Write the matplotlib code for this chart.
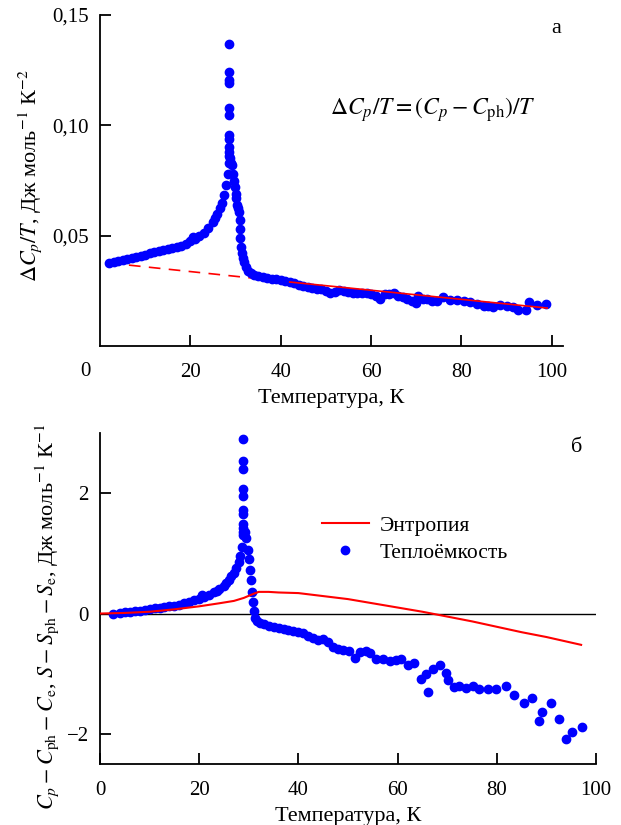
import numpy as np
import matplotlib
matplotlib.use('Agg')
import matplotlib.pyplot as plt
from matplotlib.lines import Line2D
from matplotlib.ticker import FuncFormatter

plt.rcParams['font.family'] = ['Liberation Serif', 'DejaVu Serif']
plt.rcParams['mathtext.fontset'] = 'stix'
plt.rcParams['font.size'] = 15

# --- panel a: dCp/T ---
t_a = [2, 3, 4, 5, 6, 7, 8, 9, 10, 11, 12, 13, 14, 15, 16, 17, 18, 19, 20, 20.5,
       21, 22, 23, 24, 25, 25.5, 26, 26.5, 27, 27.5, 28, 28.3, 28.5,
       28.6, 28.6, 28.6, 28.6, 28.6, 28.6, 28.6, 28.6, 28.6, 28.6, 28.6,
       28.8, 29.0, 29.2, 29.4, 29.6, 29.8, 30.0, 30.2, 30.4, 30.6, 30.8, 30.9,
       31.0, 31.1, 31.2, 31.4, 31.6, 31.9, 32.3, 32.8, 33.4, 34.2, 35, 36, 37,
       38, 39, 40, 41, 42, 43, 44, 45, 46, 47, 48, 49, 50,
       51, 52, 53, 54, 55, 56, 57, 58, 59, 60, 61, 62, 63, 64, 65, 66, 67,
       68, 69, 70, 70.5, 71.5, 72.5, 73.5, 74.5, 76, 77.5, 79, 80.5, 82,
       83.5, 85, 86, 87, 88.5, 90, 91.5, 92.5, 94.2, 94.9, 96.8, 98.8]
dcp_a = [0.0376, 0.0381, 0.0386, 0.0390, 0.0394, 0.0399, 0.0404, 0.0409, 0.0414,
         0.0420, 0.0425, 0.0430, 0.0437, 0.0441, 0.0444, 0.0447, 0.0452, 0.0462,
         0.0478, 0.0492, 0.0485, 0.0500, 0.0512, 0.0535, 0.0560, 0.0580, 0.0600,
         0.0625, 0.0650, 0.0685, 0.0730, 0.0780, 0.0830,
         0.137, 0.124, 0.1205, 0.119, 0.108, 0.1047, 0.0956, 0.094, 0.090, 0.088,
         0.0860,
         0.085, 0.083, 0.082, 0.078, 0.075, 0.072, 0.069, 0.067, 0.064, 0.0625,
         0.0605, 0.057, 0.053, 0.049, 0.045, 0.042, 0.040, 0.038, 0.036, 0.034,
         0.033, 0.032, 0.0315, 0.0312, 0.0310, 0.0305, 0.0302, 0.0300,
         0.0296, 0.0290, 0.0284, 0.0276, 0.0272, 0.0268, 0.0262, 0.0258, 0.0260,
         0.0250, 0.0240, 0.0245, 0.0252, 0.0250, 0.0245, 0.0240, 0.0240, 0.0238,
         0.0240, 0.0235, 0.0225, 0.0215, 0.0237, 0.0235, 0.0240, 0.0228, 0.0222,
         0.0215, 0.0205, 0.0195, 0.0228, 0.0215, 0.0215, 0.0205, 0.0205, 0.0220,
         0.0208, 0.0210, 0.0205, 0.0198, 0.0190, 0.0182, 0.0180, 0.0175, 0.0185,
         0.0180, 0.0178, 0.0165, 0.0165, 0.0200, 0.0186, 0.0190]
# phonon baseline (dashed below ~42 K, solid above)
t_fit_dash = [2, 42]
v_fit_dash = [0.0376, 0.0290]
t_fit = [42, 99]
v_fit = [0.0290, 0.0172]

# --- panel b ---
t_b = [2.7, 4, 5, 6, 7, 8, 9, 10, 11, 12, 13, 14, 15, 16, 17, 18, 19, 20, 20.5,
       21, 22, 23, 23.5, 24, 25, 25.5, 26, 26.5, 27, 27.5, 28, 28.3, 28.6, 28.8,
       28.9, 28.9, 28.9, 28.9, 28.9, 28.9, 28.9, 28.9, 28.9, 28.9,
       29.2, 29.5, 29.8, 30.0, 30.2, 30.4, 30.6, 30.8, 31.0, 31.2, 31.7, 32.2,
       33, 34, 35, 36, 37, 38, 39, 40, 41, 42, 43, 44, 45, 46, 47, 48, 49,
       50.3, 51.4, 52.4, 53.7, 54.4, 55.7, 57, 58.4, 59.7, 60.7, 62, 63.4,
       64.8, 65.8, 66.1, 67.1, 68.6, 69.8, 70.2, 71.3, 72.4, 73.8, 75.3, 76.4,
       78.2, 79.9, 81.9, 83.4, 85.4, 87, 88.6, 89.2, 91, 92.6, 94, 95.1, 97.2]
c_b = [0.0, 0.01, 0.02, 0.03, 0.04, 0.05, 0.06, 0.08, 0.09, 0.10, 0.11, 0.12,
       0.13, 0.15, 0.17, 0.19, 0.22, 0.25, 0.30, 0.28, 0.30, 0.35, 0.37, 0.40,
       0.45, 0.50, 0.55, 0.62, 0.68, 0.76, 0.85, 0.95, 1.1, 1.3,
       2.9, 2.54, 2.41, 2.07, 1.96, 1.72, 1.66, 1.49, 1.42, 1.36,
       1.35, 1.25, 1.05, 0.90, 0.72, 0.55, 0.35, 0.20, 0.05, -0.08, -0.12,
       -0.15, -0.18, -0.20, -0.22, -0.24, -0.25, -0.27, -0.29, -0.30, -0.33,
       -0.37, -0.41, -0.44, -0.43, -0.48, -0.55, -0.59, -0.61,
       -0.62, -0.74, -0.64, -0.63, -0.66, -0.75,
       -0.75, -0.79, -0.77, -0.75, -0.86, -0.83, -1.08, -1.0, -1.3, -0.92,
       -0.85, -0.98, -1.1, -1.22, -1.21, -1.24, -1.2, -1.25, -1.25, -1.25,
       -1.21, -1.36, -1.49, -1.41, -1.79, -1.64, -1.49, -1.76, -2.08, -1.97,
       -1.88]
t_s = [0, 5, 10, 15, 20, 24, 27, 29, 31, 32, 34, 36, 40, 45, 50, 55, 60, 65,
       70, 75, 80, 85, 90, 97]
s_b = [0, 0.01, 0.03, 0.07, 0.12, 0.17, 0.21, 0.26, 0.33, 0.36, 0.36, 0.35,
       0.34, 0.29, 0.24, 0.17, 0.10, 0.03, -0.05, -0.13, -0.22, -0.31, -0.39,
       -0.52]

W, H = 621, 825
fig = plt.figure(figsize=(W/100, H/100), dpi=100)
ax1 = fig.add_axes([100/W, 1-346/H, 463/W, 331/H])
ax2 = fig.add_axes([100/W, 1-764/H, 496/W, 331/H])

blue = '#0000ff'
red = '#ff0000'

for ax in (ax1, ax2):
    for s in ('top', 'right'):
        ax.spines[s].set_visible(False)
    for s in ('left', 'bottom'):
        ax.spines[s].set_linewidth(1.3)
    ax.tick_params(direction='in', length=8, width=1.3, labelsize=15)
    ax.tick_params(axis='y', pad=8)
    ax.tick_params(axis='x', pad=12)

# panel a
ax1.plot(t_fit_dash, v_fit_dash, color=red, lw=1.2, ls=(0, (7, 5)), zorder=1)
ax1.plot(t_a, dcp_a, 'o', color=blue, ms=6, zorder=2)
ax1.plot(t_fit, v_fit, color=red, lw=1.2, zorder=3)
ax1.set_xlim(0, 102.5)
ax1.set_ylim(0, 0.15)
ax1.set_xticks([20, 40, 60, 80, 100])
ax1.set_yticks([0.05, 0.10, 0.15])
ax1.yaxis.set_major_formatter(FuncFormatter(lambda v, p: f'{v:.2f}'.replace('.', ',')))
ax1.set_xlabel('Температура, К', fontsize=16, labelpad=5)
ax1.set_ylabel(r'$\Delta C_p/T$, Дж моль$^{-1}$ К$^{-2}$', fontsize=16)
ax1.yaxis.set_label_coords(-0.12, 0.514)
ax1.text(0.985, 0.96, 'а', transform=ax1.transAxes, ha='center', va='center', fontsize=16)
ax1.text(0.72, 0.715, r'$\Delta C_p/T = (C_p - C_{\rm ph})/T$', transform=ax1.transAxes,
         ha='center', va='center', fontsize=17)
fig.text(85/W, 1-372/H, '0', ha='center', va='center', fontsize=15)

# panel b
ax2.axhline(0, color='black', lw=1.0, zorder=1)
ax2.plot(t_b, c_b, 'o', color=blue, ms=6, zorder=2)
ax2.plot(t_s, s_b, color=red, lw=1.5, zorder=3)
ax2.set_xlim(0, 100)
ax2.set_ylim(-2.5, 3)
ax2.set_xticks([0, 20, 40, 60, 80, 100])
ax2.set_yticks([-2, 0, 2])
ax2.yaxis.set_major_formatter(FuncFormatter(lambda v, p: f'{v:.0f}'.replace('-', '\u2212')))
ax2.set_xlabel('Температура, К', fontsize=16, labelpad=5)
ax2.set_ylabel(r'$C_p - C_{\rm ph} - C_{\rm e}$, $S - S_{\rm ph} - S_{\rm e}$, Дж моль$^{-1}$ К$^{-1}$',
               fontsize=16)
ax2.yaxis.set_label_coords(-0.079, 0.444)
ax2.text(0.96, 0.955, 'б', transform=ax2.transAxes, ha='center', va='center', fontsize=16)

handles = [Line2D([], [], color=red, lw=1.5),
           Line2D([], [], ls='none', marker='o', color=blue, ms=6)]
ax2.legend(handles, ['Энтропия', 'Теплоёмкость'], loc='upper left',
           bbox_to_anchor=(0.408, 0.808), frameon=False, handlelength=2.2,
           labelspacing=0.3, fontsize=15.5, handletextpad=0.5)

fig.savefig('out.png', dpi=100)
